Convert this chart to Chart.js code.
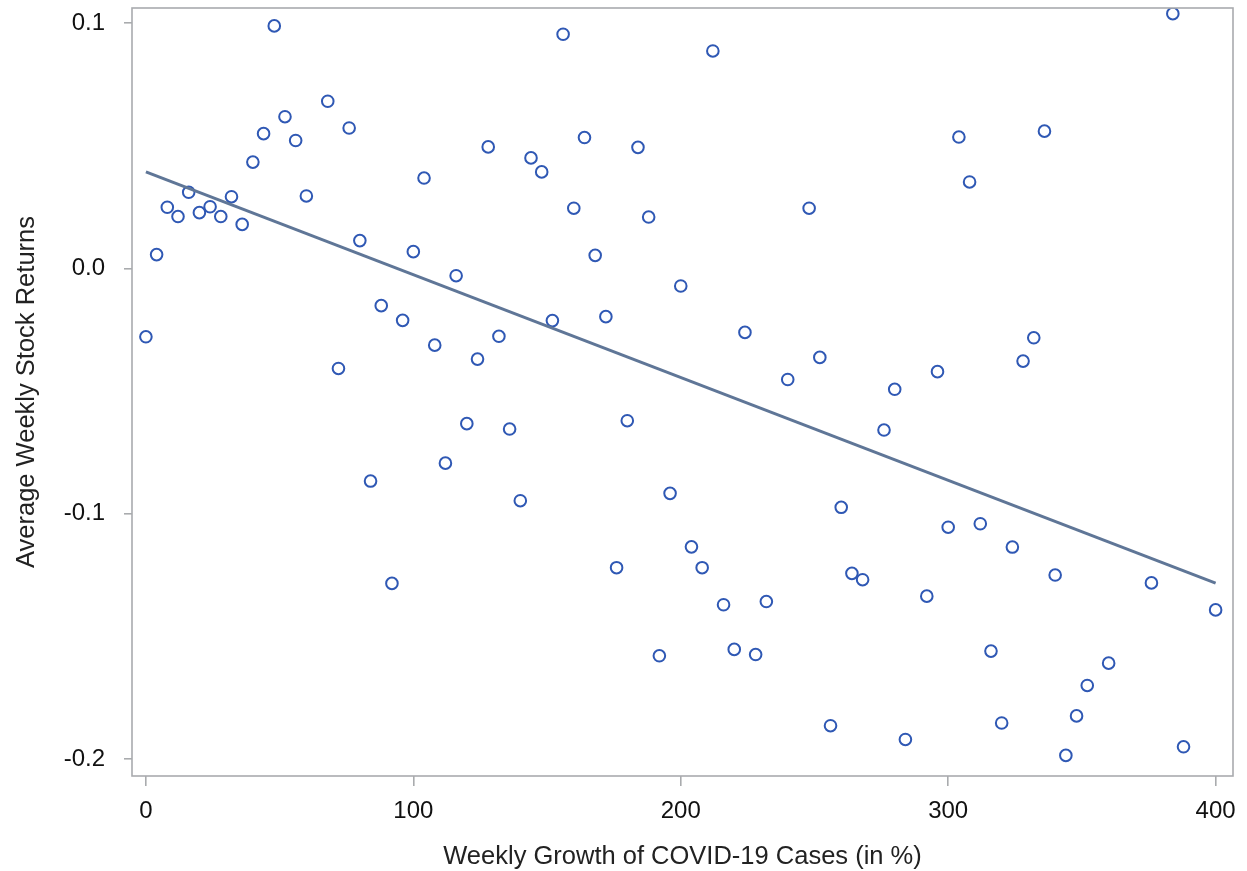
<!DOCTYPE html>
<html>
<head>
<meta charset="utf-8">
<script src="https://cdn.jsdelivr.net/npm/chart.js@4.4.1/dist/chart.umd.min.js"></script>
<style>
  html, body { margin: 0; padding: 0; background: #ffffff; }
  #wrap { width: 1247px; height: 871px; position: relative; }
</style>
</head>
<body>
<div id="wrap"><canvas id="c" width="1247" height="871"></canvas></div>
<script>
// Weekly growth of COVID-19 cases (in %)
const growth = [0, 4, 8, 12, 16, 20, 24, 28, 32, 36, 40, 44, 48, 52, 56, 60, 68, 72, 76, 80,
  84, 88, 92, 96, 100, 104, 108, 112, 116, 120, 124, 128, 132, 136, 140, 144, 148, 152, 156, 160,
  164, 168, 172, 176, 180, 184, 188, 192, 196, 200, 204, 208, 212, 216, 220, 224, 228, 232, 240, 248,
  252, 256, 260, 264, 268, 276, 280, 284, 292, 296, 300, 304, 308, 312, 316, 320, 324, 328, 332, 336,
  340, 344, 348, 352, 360, 376, 384, 388, 400];
// Average weekly stock returns
const returns = [-0.0279, 0.0056, 0.0249, 0.0211, 0.0310, 0.0227, 0.0251, 0.0211, 0.0292, 0.0179,
  0.0433, 0.0549, 0.0988, 0.0618, 0.0521, 0.0295, 0.0681, -0.0408, 0.0572, 0.0113,
  -0.0867, -0.0152, -0.1284, -0.0212, 0.0068, 0.0368, -0.0313, -0.0794, -0.0030, -0.0633,
  -0.0370, 0.0495, -0.0277, -0.0655, -0.0947, 0.0450, 0.0393, -0.0213, 0.0954, 0.0245,
  0.0533, 0.0053, -0.0197, -0.1220, -0.0621, 0.0493, 0.0209, -0.1579, -0.0917, -0.0072,
  -0.1135, -0.1220, 0.0886, -0.1371, -0.1553, -0.0261, -0.1574, -0.1358, -0.0453, 0.0245,
  -0.0363, -0.1864, -0.0974, -0.1243, -0.1269, -0.0659, -0.0493, -0.1920, -0.1336, -0.0421,
  -0.1055, 0.0535, 0.0352, -0.1041, -0.1560, -0.1853, -0.1136, -0.0378, -0.0283, 0.0559,
  -0.1250, -0.1985, -0.1824, -0.1700, -0.1609, -0.1282, 0.1038, -0.1950, -0.1392];
// Fitted regression line end points
const fitX = [0, 400];
const fitY = [0.0393, -0.1283];
// Axis ticks
const xTicks = [0, 100, 200, 300, 400];
const yTicks = [-0.2, -0.1, 0.0, 0.1];
const xTitle = 'Weekly Growth of COVID-19 Cases (in %)';
const yTitle = 'Average Weekly Stock Returns';

const scatterPts = growth.map((g, i) => ({ x: g, y: returns[i] }));
const fitPts = fitX.map((g, i) => ({ x: g, y: fitY[i] }));

const frame = {
  id: 'frame',
  afterDraw(chart) {
    const { ctx, chartArea: a } = chart;
    ctx.save();
    ctx.strokeStyle = '#a9abae';
    ctx.lineWidth = 1.6;
    ctx.strokeRect(a.left, a.top, a.right - a.left, a.bottom - a.top);
    ctx.restore();
  }
};

const fam = '"Liberation Sans", Arial, sans-serif';
const tickFont = { family: fam, size: 24 };
const titleFont = { family: fam, size: 25.5 };

new Chart(document.getElementById('c'), {
  type: 'scatter',
  data: {
    datasets: [
      {
        type: 'scatter',
        data: scatterPts,
        pointStyle: 'circle',
        pointRadius: 5.8,
        pointHoverRadius: 5.8,
        pointBorderWidth: 2,
        pointBorderColor: '#2f58b4',
        pointBackgroundColor: 'rgba(255,255,255,0)',
        clip: 0,
        order: 2
      },
      {
        type: 'line',
        data: fitPts,
        borderColor: '#5f7697',
        borderWidth: 3,
        pointRadius: 0,
        fill: false,
        clip: 0,
        order: 1
      }
    ]
  },
  plugins: [frame],
  options: {
    responsive: false,
    animation: false,
    events: [],
    layout: { padding: { top: 8, right: 14, left: 0, bottom: 0 } },
    plugins: { legend: { display: false }, tooltip: { enabled: false } },
    scales: {
      x: {
        type: 'linear',
        min: -5.2,
        max: 406.5,
        afterBuildTicks: s => { s.ticks = xTicks.map(v => ({ value: v })); },
        afterFit: s => { s.height = 95; s.paddingLeft = 0; s.paddingRight = 0; },
        border: { display: false },
        grid: { drawOnChartArea: false, drawTicks: true, tickLength: 10, color: '#a9abae', lineWidth: 1.6 },
        ticks: { font: tickFont, color: '#111', padding: 11, maxRotation: 0,
                 callback: v => String(v) },
        title: { display: true, text: xTitle, font: titleFont, color: '#222', padding: { top: 0, bottom: -1 } }
      },
      y: {
        type: 'linear',
        min: -0.2069,
        max: 0.1061,
        afterBuildTicks: s => { s.ticks = yTicks.map(v => ({ value: v })); },
        afterFit: s => { s.width = 132; s.paddingTop = 0; s.paddingBottom = 0; },
        border: { display: false },
        grid: { drawOnChartArea: false, drawTicks: true, tickLength: 8, color: '#a9abae', lineWidth: 1.6 },
        ticks: { font: tickFont, color: '#111', padding: 19,
                 callback: v => Number(v).toFixed(1) },
        title: { display: true, text: yTitle, font: titleFont, color: '#222', padding: { top: 12, bottom: 0 } }
      }
    }
  }
});
</script>
</body>
</html>
